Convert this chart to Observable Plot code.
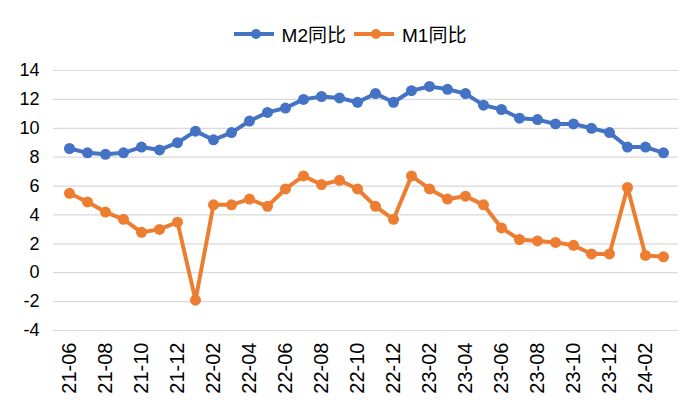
<!DOCTYPE html>
<html><head><meta charset="utf-8">
<script src="https://cdn.jsdelivr.net/npm/d3@7"></script>
<script src="https://cdn.jsdelivr.net/npm/@observablehq/plot@0.6"></script>
<style>
body{margin:0;background:#fff;font-family:"Liberation Sans",Arial,"Noto Sans CJK SC",sans-serif;}
#legend{height:50px;display:flex;justify-content:center;align-items:flex-start;padding-top:20px;box-sizing:border-box;font-size:19px;color:#000;}
.item{display:flex;align-items:center;margin:0 4px;}
.item svg{margin-right:8px;}
</style></head>
<body><div id="legend"></div><div id="chart"></div>
<script>
const months = ["21-06","21-07","21-08","21-09","21-10","21-11","21-12","22-01","22-02","22-03","22-04","22-05","22-06","22-07","22-08","22-09","22-10","22-11","22-12","23-01","23-02","23-03","23-04","23-05","23-06","23-07","23-08","23-09","23-10","23-11","23-12","24-01","24-02","24-03"];
const m2 = [8.6,8.3,8.2,8.3,8.7,8.5,9.0,9.8,9.2,9.7,10.5,11.1,11.4,12.0,12.2,12.1,11.8,12.4,11.8,12.6,12.9,12.7,12.4,11.6,11.3,10.7,10.6,10.3,10.3,10.0,9.7,8.7,8.7,8.3];
const m1 = [5.5,4.9,4.2,3.7,2.8,3.0,3.5,-1.9,4.7,4.7,5.1,4.6,5.8,6.7,6.1,6.4,5.8,4.6,3.7,6.7,5.8,5.1,5.3,4.7,3.1,2.3,2.2,2.1,1.9,1.3,1.3,5.9,1.2,1.1];
const yTicks = [-4,-2,0,2,4,6,8,10,12,14];
const xTicks = months.filter((d,i)=>i%2===0);
const seriesNames = ["M2同比","M1同比"];
const colors = ["#4472C4","#ED7D31"];

const data = months.flatMap((m,i)=>[
  {month:m,value:m2[i],series:seriesNames[0]},
  {month:m,value:m1[i],series:seriesNames[1]}
]);

const legend = document.getElementById("legend");
seriesNames.forEach((name,i)=>{
  const it = document.createElement("div");
  it.className="item";
  it.innerHTML = `<svg width="40" height="14"><line x1="0" x2="40" y1="7" y2="7" stroke="${colors[i]}" stroke-width="4"/><circle cx="22" cy="7" r="5" fill="${colors[i]}"/></svg><span>${name}</span>`;
  legend.appendChild(it);
});

const chart = Plot.plot({
  width:700, height:370,
  marginTop:20, marginBottom:90, marginLeft:53, marginRight:22,
  style:{fontFamily:'"Liberation Sans",Arial,"Noto Sans CJK SC",sans-serif', background:"#fff", color:"#000"},
  x:{type:"point", domain:months, padding:0.5, label:null},
  y:{domain:[-4,14], label:null},
  color:{domain:seriesNames, range:colors},
  marks:[
    Plot.gridY(yTicks,{stroke:"#d9d9d9", strokeOpacity:1, strokeWidth:1.2}),
    Plot.axisY(yTicks,{tickSize:0, tickPadding:14, fontSize:18, label:null, tickFormat:d=>String(d)}),
    Plot.axisX(xTicks,{tickSize:0, tickRotate:-90, fontSize:20, tickPadding:12, label:null}),
    Plot.line(data,{x:"month", y:"value", stroke:"series", z:"series", strokeWidth:4}),
    Plot.dot(data,{x:"month", y:"value", fill:"series", r:5.5})
  ]
});
document.getElementById("chart").appendChild(chart);
</script>
</body></html>
